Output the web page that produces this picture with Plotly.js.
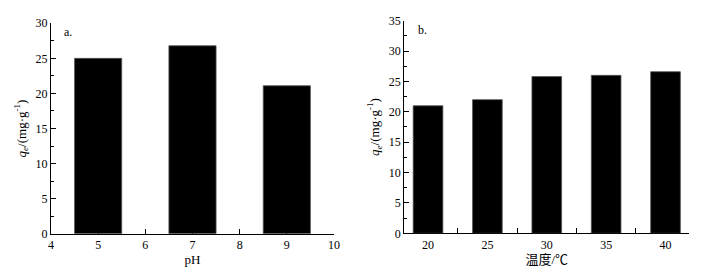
<!DOCTYPE html>
<html><head><meta charset="utf-8">
<script src="https://cdn.plot.ly/plotly-3.0.1.min.js"></script>
<style>html,body{margin:0;padding:0;background:#fff}</style>
</head><body><div id="chart" style="width:710px;height:274px"></div>
<script>
// Panel a: effect of pH
const phValues = [5, 7, 9];
const phQe = [25.0, 26.8, 21.1];
// Panel b: effect of temperature
const tempValues = [20, 25, 30, 35, 40];
const tempQe = [21.0, 22.0, 25.8, 26.0, 26.6];
const tempMinorTicks = [22.5, 27.5, 32.5, 37.5, 42];

const FONT = 'Liberation Serif, "Times New Roman", "Noto Sans CJK SC", serif';
const yTitle = '<i>q</i><sub><i>e</i></sub>/(mg·g<sup>-1</sup>)';

const traces = [
  {type: 'bar', x: phValues, y: phQe, width: 1, xaxis: 'x', yaxis: 'y',
   marker: {color: '#000', line: {width: 0.8, color: '#555'}}, hoverinfo: 'none'},
  {type: 'bar', x: tempValues, y: tempQe, width: 2.5, xaxis: 'x2', yaxis: 'y2',
   marker: {color: '#000', line: {width: 0.8, color: '#555'}}, hoverinfo: 'none'}
];

const axCommon = {
  showgrid: false, zeroline: false, showline: true, linecolor: '#000', linewidth: 1,
  ticks: 'inside', ticklen: 5, tickcolor: '#000', tickwidth: 1,
  tickfont: {family: FONT, size: 12, color: '#000'}, layer: 'below traces', fixedrange: true
};

const layout = {
  width: 710, height: 274, margin: {l: 0, r: 0, t: 0, b: 0},
  paper_bgcolor: '#fff', plot_bgcolor: '#fff', showlegend: false,
  font: {family: FONT, size: 12, color: '#000'},
  xaxis: Object.assign({}, axCommon, {domain: [0.0718, 0.4704], range: [4, 10], dtick: 1, tick0: 4,
    anchor: 'y', title: {text: 'pH', font: {family: FONT, size: 13}, standoff: 1}}),
  yaxis: Object.assign({}, axCommon, {domain: [0.147, 0.915], range: [0, 30], dtick: 5, anchor: 'x',
    minor: {ticks: 'inside', ticklen: 3, dtick: 2.5, tickcolor: '#000'},
    title: {text: yTitle, font: {family: FONT, size: 13}, standoff: 6}}),
  xaxis2: Object.assign({}, axCommon, {domain: [0.5694, 0.9708], range: [18, 42], tick0: 20, dtick: 5,
    minor: {ticks: 'inside', ticklen: 5, tickmode: 'array', tickvals: tempMinorTicks, tickcolor: '#000'},
    anchor: 'y2', title: {text: '温度/℃', font: {family: FONT, size: 13}, standoff: 1}}),
  yaxis2: Object.assign({}, axCommon, {domain: [0.1485, 0.9245], range: [0, 35], dtick: 5, anchor: 'x2',
    minor: {ticks: 'inside', ticklen: 3, dtick: 2.5, tickcolor: '#000'},
    title: {text: yTitle, font: {family: FONT, size: 13}, standoff: 6}}),
  annotations: [
    {text: 'a.', xref: 'x domain', yref: 'y domain', x: 0.04, y: 1.0, xanchor: 'left', yanchor: 'top',
     showarrow: false, font: {family: FONT, size: 12}},
    {text: 'b.', xref: 'x2 domain', yref: 'y2 domain', x: 0.04, y: 1.0, xanchor: 'left', yanchor: 'top',
     showarrow: false, font: {family: FONT, size: 12}}
  ]
};

Plotly.newPlot('chart', traces, layout, {staticPlot: true, displayModeBar: false});
</script></body></html>
